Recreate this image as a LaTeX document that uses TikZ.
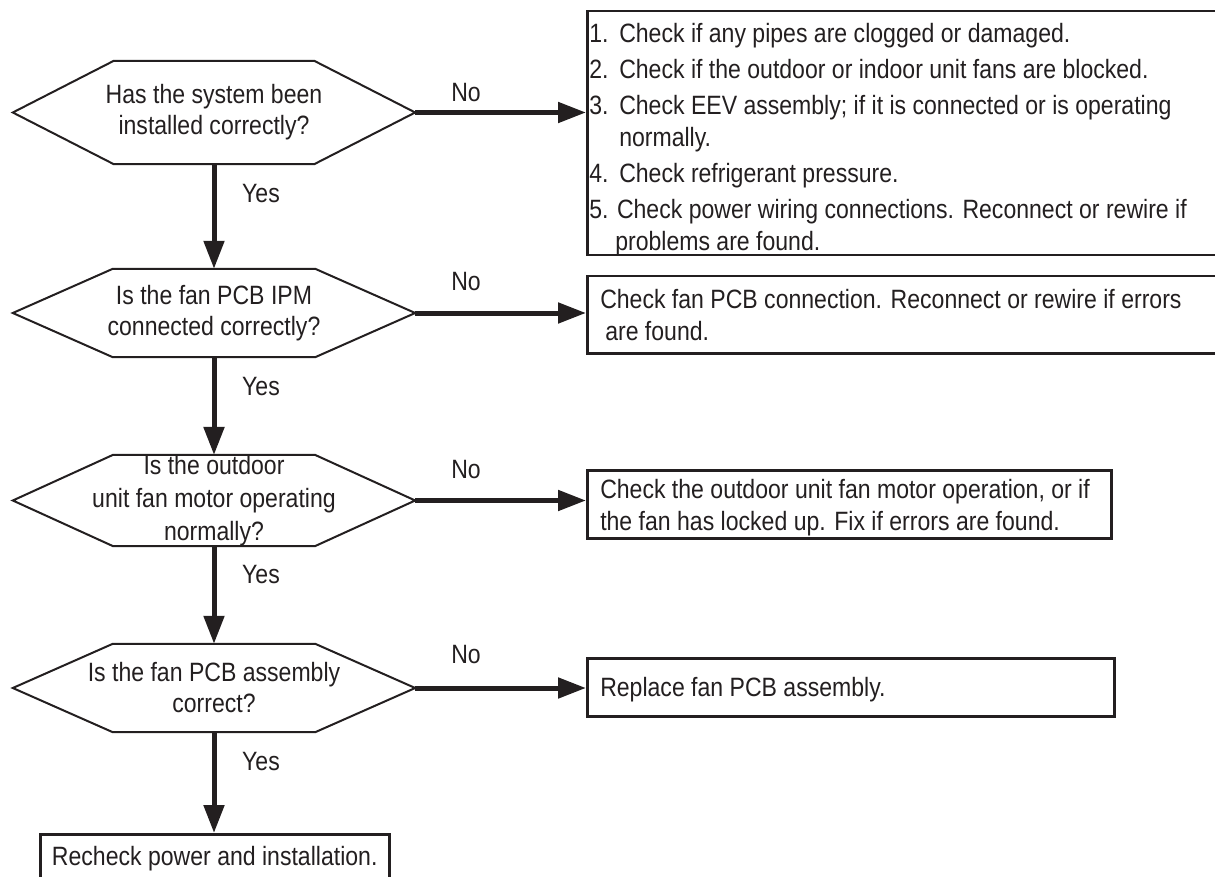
\documentclass[tikz,border=0pt]{standalone}
\usepackage{fontspec}
\setmainfont{Liberation Sans}[FakeStretch=0.87]
\usetikzlibrary{arrows.meta}
\definecolor{ink}{HTML}{231F20}
\newcommand{\boxtext}[4]{\begin{minipage}[t][#2pt][t]{#1pt}\vspace*{#3pt}\noindent #4\end{minipage}}
\newcommand{\hexframe}[2]{\draw[hexa] (#1.west) -- ([xshift=#2pt]#1.north west) -- ([xshift=-#2pt]#1.north east) -- (#1.east) -- ([xshift=-#2pt]#1.south east) -- ([xshift=#2pt]#1.south west) -- cycle;}
\newcommand{\num}[1]{\hspace*{2pt}\makebox[30pt][l]{#1}}
\begin{document}
\begin{tikzpicture}[x=1pt,y=-1pt,
  every node/.style={font=\fontsize{26.5}{32}\selectfont, text=ink},
  dtext/.style={rectangle, draw=none, align=center, inner sep=0pt, font=\fontsize{26.5}{31}\selectfont},
  hexa/.style={draw=ink, line width=2pt, line join=miter},
  frame/.style={draw=ink, line width=2.5pt, rectangle, anchor=north west, inner sep=0pt},
  flow/.style={draw=ink, line width=5pt, -{Triangle[length=28pt,width=20pt]}},
  lab/.style={inner sep=0pt}]
\useasboundingbox (0,0) rectangle (1215,877);
\clip (0,0) rectangle (1215,877);

% decisions
\node[dtext, minimum width=402pt, minimum height=103pt] (d1) at (214,112.5) {Has the system been\\installed correctly?};
\hexframe{d1}{101}
\node[dtext, minimum width=402pt, minimum height=88pt] (d2) at (214,313) {Is the fan PCB IPM\\connected correctly?};
\hexframe{d2}{100}
\node[dtext, minimum width=402pt, minimum height=87pt, font=\fontsize{26.5}{33}\selectfont] (d3) at (214,500.5) {Is the outdoor\\unit fan motor operating\\normally?};
\hexframe{d3}{100}
\node[dtext, minimum width=402pt, minimum height=88pt] (d4) at (214,688) {Is the fan PCB assembly\\correct?};
\hexframe{d4}{100}

% action boxes
\node[frame] (b1) at (586,10) {\boxtext{690}{244}{12.5}{%
\num{1.}Check if any pipes are clogged or damaged.\\[4pt]
\num{2.}Check if the outdoor or indoor unit fans are blocked.\\[4pt]
\num{3.}Check EEV assembly; if it is connected or is operating\\
\hspace*{32pt}normally.\\[4pt]
\num{4.}Check refrigerant pressure.\\[4pt]
\hspace*{2pt}5. Check power wiring connections. Reconnect or rewire if\\
\hspace*{28pt}problems are found.}};
\node[frame] (b2) at (586,275) {\boxtext{690}{77}{13.5}{%
\hspace*{13pt}Check fan PCB connection. Reconnect or rewire if errors\\
\hspace*{18pt}are found.}};
\node[frame] (b3) at (586,469) {\boxtext{524}{68}{9.5}{%
\hspace*{13pt}Check the outdoor unit fan motor operation, or if\\
\hspace*{13pt}the fan has locked up. Fix if errors are found.}};
\node[frame] (b4) at (586,657) {\boxtext{527}{58}{19.5}{%
\hspace*{13pt}Replace fan PCB assembly.}};
\node[frame] (b5) at (39,833) {\boxtext{349}{70}{12.5}{%
\centering Recheck power and installation.}};

% connectors
\draw[flow] (d1.south) -- (d2.north);
\draw[flow] (d2.south) -- (d3.north);
\draw[flow] (d3.south) -- (d4.north);
\draw[flow] (d4.south) -- (b5.north -| d4.south);
\draw[flow] (d1.east) -- (d1.east -| b1.west);
\draw[flow] (d2.east) -- (d2.east -| b2.west);
\draw[flow] (d3.east) -- (d3.east -| b3.west);
\draw[flow] (d4.east) -- (d4.east -| b4.west);

% labels
\node[lab] (n1) at (466,93) {No};
\node[lab] (n2) at (466,282) {No};
\node[lab] (n3) at (466,470) {No};
\node[lab] (n4) at (466,655) {No};
\node[lab, anchor=west] (y1) at (242,194) {Yes};
\node[lab, anchor=west] (y2) at (242,387) {Yes};
\node[lab, anchor=west] (y3) at (242,575) {Yes};
\node[lab, anchor=west] (y4) at (242,762) {Yes};
\end{tikzpicture}
\end{document}
